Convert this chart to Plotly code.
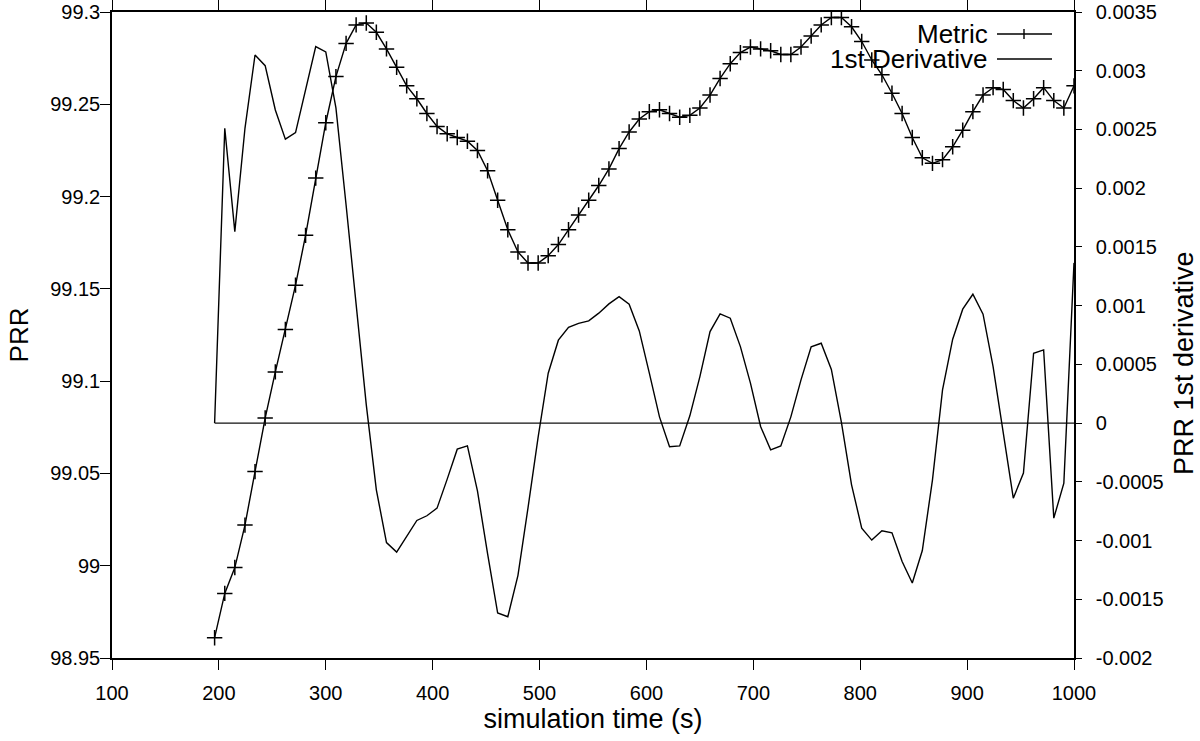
import plotly.graph_objects as go

# simulation time (s) of each sample
TIME = [196.0, 205.5, 214.9, 224.4, 233.8, 243.3, 252.8, 262.2, 271.7, 281.1,
        290.6, 300.0, 309.5, 319.0, 328.4, 337.9, 347.3, 356.8, 366.3, 375.7,
        385.2, 394.6, 404.1, 413.6, 423.0, 432.5, 441.9, 451.4, 460.8, 470.3,
        479.8, 489.2, 498.7, 508.1, 517.6, 527.1, 536.5, 546.0, 555.4, 564.9,
        574.4, 583.8, 593.3, 602.7, 612.2, 621.6, 631.1, 640.6, 650.0, 659.5,
        668.9, 678.4, 687.9, 697.3, 706.8, 716.2, 725.7, 735.1, 744.6, 754.1,
        763.5, 773.0, 782.4, 791.9, 801.4, 810.8, 820.3, 829.7, 839.2, 848.7,
        858.1, 867.6, 877.0, 886.5, 895.9, 905.4, 914.9, 924.3, 933.8, 943.2,
        952.7, 962.2, 971.6, 981.1, 990.5, 1000.0]

# PRR metric (left axis)
METRIC = [98.961, 98.985, 98.999, 99.022, 99.051, 99.080, 99.105, 99.128, 99.152, 99.179,
          99.210, 99.240, 99.265, 99.283, 99.293, 99.294, 99.289, 99.280, 99.270, 99.260,
          99.253, 99.245, 99.238, 99.234, 99.232, 99.230, 99.225, 99.214, 99.198, 99.182,
          99.170, 99.164, 99.164, 99.168, 99.174, 99.182, 99.190, 99.198, 99.206, 99.215,
          99.226, 99.235, 99.242, 99.246, 99.247, 99.245, 99.243, 99.244, 99.248, 99.255,
          99.264, 99.272, 99.278, 99.281, 99.280, 99.279, 99.277, 99.277, 99.281, 99.287,
          99.293, 99.297, 99.297, 99.292, 99.284, 99.274, 99.266, 99.256, 99.245, 99.232,
          99.221, 99.218, 99.220, 99.227, 99.236, 99.246, 99.255, 99.259, 99.258, 99.252,
          99.248, 99.253, 99.259, 99.252, 99.248, 99.260]

# PRR 1st derivative (right axis)
DERIV = [0.0, 0.00251, 0.00163, 0.00251, 0.003134, 0.003043, 0.002666, 0.002417, 0.002473, 0.002836,
         0.003205, 0.00316, 0.002683, 0.001857, 0.001006, 0.000155, -0.000568, -0.001017, -0.001098, -0.000966,
         -0.000829, -0.000789, -0.000724, -0.000477, -0.000222, -0.000194, -0.000577, -0.001113, -0.001617, -0.001649,
         -0.001296, -0.000721, -0.000117, 0.000425, 0.000706, 0.000815, 0.000849, 0.00087, 0.000936, 0.001015,
         0.001077, 0.001012, 0.000785, 0.000425, 0.000053, -0.000202, -0.000194, 0.000062, 0.000396, 0.000779,
         0.00093, 0.000893, 0.000651, 0.00034, -0.000029, -0.000228, -0.000194, 0.000053, 0.000368, 0.000649,
         0.00068, 0.000457, 0.000006, -0.000526, -0.000894, -0.000996, -0.000917, -0.000934, -0.001178, -0.001362,
         -0.001085, -0.000483, 0.000283, 0.000714, 0.00097, 0.001097, 0.000927, 0.000481, -0.00008, -0.000639,
         -0.000426, 0.000595, 0.000623, -0.000809, -0.000511, 0.001364]

X_TICKS = [100, 200, 300, 400, 500, 600, 700, 800, 900, 1000]
Y_TICKS = [98.95, 99.0, 99.05, 99.1, 99.15, 99.2, 99.25, 99.3]
Y_TICK_TEXT = ["98.95", "99", "99.05", "99.1", "99.15", "99.2", "99.25", "99.3"]
Y2_TICKS = [-0.002, -0.0015, -0.001, -0.0005, 0, 0.0005, 0.001, 0.0015, 0.002, 0.0025, 0.003, 0.0035]
Y2_TICK_TEXT = ["-0.002", "-0.0015", "-0.001", "-0.0005", "0", "0.0005", "0.001",
                "0.0015", "0.002", "0.0025", "0.003", "0.0035"]

FONT = "Liberation Sans, Arial, Helvetica, sans-serif"
BLACK = "#000000"

W, H = 1200, 741
PLOT_L, PLOT_R, PLOT_T, PLOT_B = 112, 1074, 12, 658

fig = go.Figure()

# zero reference line of the derivative
fig.add_trace(go.Scatter(
    x=[TIME[0], TIME[-1]], y=[0, 0], yaxis="y2", mode="lines",
    line=dict(color="#111111", width=1.4), showlegend=False, hoverinfo="skip",
))

fig.add_trace(go.Scatter(
    x=TIME, y=DERIV, yaxis="y2", mode="lines", name="1st Derivative",
    line=dict(color=BLACK, width=1.4), showlegend=False,
))

fig.add_trace(go.Scatter(
    x=TIME, y=METRIC, mode="lines+markers", name="Metric",
    line=dict(color=BLACK, width=1.4),
    marker=dict(symbol="cross-thin", size=11, line=dict(color=BLACK, width=1.5)),
    showlegend=False,
))

# page pixel -> paper coords
def px(x):
    return (x - PLOT_L) / (PLOT_R - PLOT_L)
def py(y):
    return (PLOT_B - y) / (PLOT_B - PLOT_T)

# gnuplot style key: text right aligned, sample to the right
for label, yc, plus in [("Metric", 34, True), ("1st Derivative", 59, False)]:
    fig.add_annotation(x=px(990), y=py(yc), xref="paper", yref="paper", text=label,
                       showarrow=False, xanchor="right", yanchor="middle",
                       font=dict(family=FONT, size=26, color=BLACK))
    fig.add_shape(type="line", xref="paper", yref="paper",
                  x0=px(997), x1=px(1052), y0=py(yc), y1=py(yc),
                  line=dict(color=BLACK, width=1.4))
    if plus:
        fig.add_shape(type="line", xref="paper", yref="paper",
                      x0=px(1024), x1=px(1024), y0=py(yc - 5), y1=py(yc + 5),
                      line=dict(color=BLACK, width=1.4))

# right axis title sits a little below the middle, as in gnuplot
fig.add_annotation(x=px(1184), y=py(363), xref="paper", yref="paper",
                   text="PRR 1st derivative", textangle=-90, showarrow=False,
                   xanchor="center", yanchor="middle",
                   font=dict(family=FONT, size=27, color=BLACK))

axis_common = dict(
    showgrid=False, zeroline=False, showline=True, linecolor=BLACK, linewidth=1.5,
    ticks="outside", tickcolor=BLACK, tickwidth=1.2, ticklabeloverflow="allow",
    tickfont=dict(family=FONT, size=20, color=BLACK), automargin=False,
)

fig.update_layout(
    width=W, height=H,
    paper_bgcolor="white", plot_bgcolor="white",
    font=dict(family=FONT, color=BLACK),
    margin=dict(l=PLOT_L, r=W - PLOT_R, t=PLOT_T, b=H - PLOT_B),
    xaxis=dict(range=[100, 1000], tickvals=X_TICKS, ticklen=10, mirror="ticks",
               ticklabelstandoff=6,
               title=dict(text="simulation time (s)", font=dict(family=FONT, size=27), standoff=0),
               **axis_common),
    yaxis=dict(range=[98.95, 99.3], tickvals=Y_TICKS, ticktext=Y_TICK_TEXT, ticklen=10,
               ticklabelstandoff=-4,
               title=dict(text="PRR", font=dict(family=FONT, size=26), standoff=14),
               **axis_common),
    yaxis2=dict(range=[-0.002, 0.0035], tickvals=Y2_TICKS, ticktext=Y2_TICK_TEXT, ticklen=6,
                overlaying="y", side="right", ticklabelstandoff=10,
                **axis_common),
    showlegend=False,
)

# drop the default page margin so the figure sits at the window origin
fig.write_html("out.html", config={"displayModeBar": False},
               post_script="document.body.style.margin='0';")
